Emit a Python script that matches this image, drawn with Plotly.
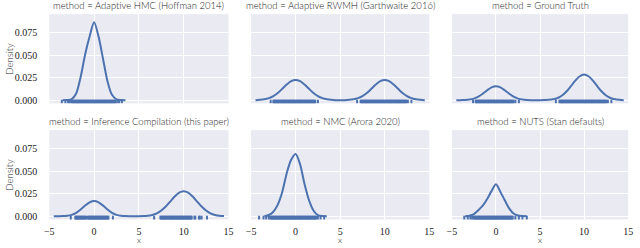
import plotly.graph_objects as go

# ---------------- data ----------------
methods = [
    "Adaptive HMC (Hoffman 2014)",
    "Adaptive RWMH (Garthwaite 2016)",
    "Ground Truth",
    "Inference Compilation (this paper)",
    "NMC (Arora 2020)",
    "NUTS (Stan defaults)",
]

x_narrow = [-3.5, -3.0, -2.5, -2.0, -1.5, -1.0, -0.5, 0.0, 0.5, 1.0, 1.5, 2.0, 2.5, 3.0, 3.5]
x_wide = [-4.5, -4.0, -3.5, -3.0, -2.5, -2.0, -1.5, -1.0, -0.5, 0.0, 0.5, 1.0, 1.5, 2.0,
          2.5, 3.0, 3.5, 4.0, 4.5, 5.0, 5.5, 6.0, 6.5, 7.0, 7.5, 8.0, 8.5, 9.0, 9.5, 10.0,
          10.5, 11.0, 11.5, 12.0, 12.5, 13.0, 13.5, 14.0, 14.5]

hmc_density = [0.0, 0.0002, 0.0012, 0.0075, 0.026, 0.051, 0.071, 0.087, 0.071, 0.046,
               0.021, 0.006, 0.001, 0.0002, 0.0]
rwmh_density = [0.0001, 0.0004, 0.0010, 0.0023, 0.0046, 0.0081, 0.0127, 0.0175, 0.0212, 0.0225,
                0.0212, 0.0175, 0.0127, 0.0081, 0.0046, 0.0023, 0.0010, 0.0004, 0.0001, 0.0001,
                0.0001, 0.0004, 0.0010, 0.0023, 0.0046, 0.0081, 0.0127, 0.0175, 0.0212, 0.0225,
                0.0212, 0.0175, 0.0127, 0.0081, 0.0046, 0.0023, 0.0010, 0.0004, 0.0001]
truth_density = [0.0, 0.0001, 0.0002, 0.0007, 0.0018, 0.0039, 0.0072, 0.0111, 0.0144, 0.0157,
                 0.0144, 0.0111, 0.0072, 0.0039, 0.0018, 0.0007, 0.0002, 0.0001, 0.0001,
                 0.0001, 0.0002, 0.0004, 0.0010, 0.0025, 0.0053, 0.0097, 0.0156, 0.0218, 0.0267,
                 0.0286, 0.0267, 0.0218, 0.0156, 0.0097, 0.0053, 0.0025, 0.0010, 0.0004, 0.0001]
ic_density = [0.0, 0.0001, 0.0002, 0.0006, 0.0016, 0.0038, 0.0075, 0.0119, 0.0156, 0.0171,
              0.0156, 0.0119, 0.0075, 0.0038, 0.0016, 0.0006, 0.0002, 0.0001, 0.0001,
              0.0001, 0.0002, 0.0006, 0.0015, 0.0033, 0.0064, 0.0108, 0.0164, 0.0220, 0.0263,
              0.0279, 0.0263, 0.0220, 0.0164, 0.0108, 0.0064, 0.0033, 0.0015, 0.0006, 0.0002]
nmc_density = [0.0, 0.0014, 0.005, 0.013, 0.027, 0.048, 0.063, 0.0695, 0.058, 0.036,
               0.018, 0.0065, 0.0012, 0.0002, 0.0]
nuts_density = [0.0, 0.0006, 0.0025, 0.0068, 0.0118, 0.0192, 0.0283, 0.0357, 0.0272, 0.0178,
                0.0088, 0.0030, 0.0008, 0.0002, 0.0]

hmc_rug = [-3.6, -3.2, -2.9, -2.7, -2.5, -2.4, -2.3, -2.2, -2.1, -2.0, -1.9, -1.8, -1.7, -1.6,
           -1.5, -1.4, -1.3, -1.2, -1.1, -1.0, -0.9, -0.8, -0.7, -0.6, -0.5, -0.4, -0.3, -0.2,
           -0.1, 0.0, 0.1, 0.2, 0.3, 0.4, 0.5, 0.6, 0.7, 0.8, 0.9, 1.0, 1.1, 1.2, 1.3, 1.4, 1.5,
           1.6, 1.7, 1.8, 1.9, 2.0, 2.1, 2.2, 2.3, 2.4, 2.6, 2.8, 3.1]
rwmh_rug = [-2.8, -2.5, -2.4, -2.3, -2.2, -2.1, -2.0, -1.9, -1.8, -1.7, -1.6, -1.5, -1.4, -1.3,
            -1.2, -1.1, -1.0, -0.9, -0.8, -0.7, -0.6, -0.5, -0.4, -0.3, -0.2, -0.1, 0.0, 0.1,
            0.2, 0.3, 0.4, 0.5, 0.6, 0.7, 0.8, 0.9, 1.0, 1.1, 1.2, 1.3, 1.4, 1.5, 1.6, 1.7, 1.8,
            1.9, 2.0, 2.1, 2.2, 2.5,
            6.9, 7.3, 7.4, 7.5, 7.6, 7.7, 7.8, 7.9, 8.0, 8.1, 8.2, 8.3, 8.4, 8.5, 8.6, 8.7, 8.8,
            8.9, 9.0, 9.1, 9.2, 9.3, 9.4, 9.5, 9.6, 9.7, 9.8, 9.9, 10.0, 10.1, 10.2, 10.3, 10.4,
            10.5, 10.6, 10.7, 10.8, 10.9, 11.0, 11.1, 11.2, 11.3, 11.4, 11.5, 11.6, 11.7, 11.8,
            11.9, 12.0, 12.1, 12.2, 12.3, 12.4, 12.6, 13.0]
truth_rug = [-2.6, -2.3, -2.2, -2.1, -2.0, -1.9, -1.8, -1.7, -1.6, -1.5, -1.4, -1.3, -1.2, -1.1,
             -1.0, -0.9, -0.8, -0.7, -0.6, -0.5, -0.4, -0.3, -0.2, -0.1, 0.0, 0.1, 0.2, 0.3,
             0.4, 0.5, 0.6, 0.7, 0.8, 0.9, 1.0, 1.1, 1.2, 1.3, 1.4, 1.5, 1.6, 1.7, 1.8, 1.9,
             2.0, 2.2, 2.6,
             6.8, 7.2, 7.3, 7.4, 7.5, 7.6, 7.7, 7.8, 7.9, 8.0, 8.1, 8.2, 8.3, 8.4, 8.5, 8.6, 8.7,
             8.8, 8.9, 9.0, 9.1, 9.2, 9.3, 9.4, 9.5, 9.6, 9.7, 9.8, 9.9, 10.0, 10.1, 10.2, 10.3,
             10.4, 10.5, 10.6, 10.7, 10.8, 10.9, 11.0, 11.1, 11.2, 11.3, 11.4, 11.5, 11.6, 11.7,
             11.8, 11.9, 12.0, 12.1, 12.2, 12.3, 12.4, 12.5, 12.7, 13.1]
ic_rug = [-2.6, -2.1, -2.0, -1.9, -1.8, -1.7, -1.6, -1.5, -1.4, -1.3, -1.2, -1.1, -1.0, -0.9,
          -0.7, -0.6, -0.5, -0.4, -0.3, -0.2, -0.1, 0.0, 0.1, 0.2, 0.3, 0.4, 0.5, 0.6, 0.7,
          0.8, 0.9, 1.0, 1.1, 1.2, 1.3, 1.4, 1.5, 1.6, 2.1,
          6.7, 7.4, 7.5, 7.6, 7.7, 7.8, 7.9, 8.0, 8.1, 8.2, 8.3, 8.4, 8.5, 8.6, 8.7, 8.8, 8.9,
          9.0, 9.1, 9.2, 9.3, 9.4, 9.5, 9.6, 9.7, 9.8, 9.9, 10.0, 10.1, 10.2, 10.3, 10.4, 10.5,
          10.6, 10.7, 10.8, 10.9, 11.2, 11.3, 11.7, 11.8, 12.0, 12.6]
nmc_rug = [-4.1, -3.6, -3.3, -3.0, -2.8, -2.7, -2.6, -2.5, -2.4, -2.3, -2.2, -2.1, -2.0, -1.9,
           -1.8, -1.7, -1.6, -1.5, -1.4, -1.3, -1.2, -1.1, -1.0, -0.9, -0.8, -0.7, -0.6, -0.5,
           -0.4, -0.3, -0.2, -0.1, 0.0, 0.1, 0.2, 0.3, 0.4, 0.5, 0.6, 0.7, 0.8, 0.9, 1.0, 1.1,
           1.2, 1.3, 1.4, 1.5, 1.6, 1.7, 1.8, 1.9, 2.0, 2.1, 2.2, 2.3, 2.5, 2.8, 3.2]
nuts_rug = [-3.6, -3.2, -2.9, -2.7, -2.5, -2.4, -2.3, -2.2, -2.1, -2.0, -1.9, -1.8, -1.7, -1.6,
            -1.5, -1.4, -1.3, -1.2, -1.1, -1.0, -0.9, -0.8, -0.7, -0.6, -0.5, -0.4, -0.3, -0.2,
            -0.1, 0.0, 0.1, 0.2, 0.3, 0.4, 0.5, 0.6, 0.7, 0.8, 0.9, 1.0, 1.1, 1.2, 1.3, 1.4,
            1.5, 1.6, 1.7, 1.8, 1.9, 2.2, 2.6, 3.0, 3.5]

panel_x = [x_narrow, x_wide, x_wide, x_wide, x_narrow, x_narrow]
panel_density = [hmc_density, rwmh_density, truth_density, ic_density, nmc_density, nuts_density]
panel_rug = [hmc_rug, rwmh_rug, truth_rug, ic_rug, nmc_rug, nuts_rug]

x_ticks = [-5, 0, 5, 10, 15]
y_ticks = [0.0, 0.025, 0.05, 0.075]
y_tick_labels = ["0.000", "0.025", "0.050", "0.075"]

# ---------------- styling ----------------
LINE = "#4C72B0"
BG = "#EAEAF2"
TXT = "#222222"
SERIF = "Liberation Serif"
SANS = "Lato"

col_dom = [[0.0703, 0.3547], [0.3906, 0.6734], [0.7094, 0.9891]]
row_dom = [[0.5798, 0.9427], [0.1081, 0.4710]]
x_range = [-5, 15]
y_range = [-0.0035, 0.096]

fig = go.Figure()
layout = dict(
    width=640, height=248,
    margin=dict(l=0, r=0, t=0, b=0),
    paper_bgcolor="white", plot_bgcolor=BG,
    showlegend=False,
    font=dict(family=SANS, color=TXT, size=10),
)
annotations = []

for i in range(6):
    r, c = divmod(i, 3)
    n = "" if i == 0 else str(i + 1)
    xa, ya = "x" + n, "y" + n
    fig.add_trace(go.Scatter(
        x=panel_rug[i], y=[-0.0017] * len(panel_rug[i]), mode="markers",
        marker=dict(symbol="line-ns", size=3, line=dict(color=LINE, width=2)),
        xaxis=xa, yaxis=ya, hoverinfo="skip", cliponaxis=True))
    fig.add_trace(go.Scatter(
        x=panel_x[i], y=panel_density[i], mode="lines",
        line=dict(color=LINE, width=2, shape="spline", smoothing=0.8),
        xaxis=xa, yaxis=ya, hoverinfo="skip"))
    layout["xaxis" + n] = dict(
        domain=col_dom[c], anchor=ya, range=x_range,
        tickvals=x_ticks, showticklabels=(r == 1),
        tickfont=dict(family=SERIF, size=10, color=TXT),
        ticks="outside", ticklen=3, tickcolor="rgba(0,0,0,0)",
        showgrid=True, gridcolor="white", gridwidth=1,
        zeroline=False, showline=False)
    layout["yaxis" + n] = dict(
        domain=row_dom[r], anchor=xa, range=y_range,
        tickvals=y_ticks, ticktext=y_tick_labels, showticklabels=(c == 0),
        tickfont=dict(family=SERIF, size=10, color=TXT),
        ticklabelstandoff=11,
        showgrid=True, gridcolor="white", gridwidth=1,
        zeroline=False, showline=False, ticks="")
    cx = (col_dom[c][0] + col_dom[c][1]) / 2
    ty = 1 - 6 / 248 if r == 0 else 1 - 122 / 248
    annotations.append(dict(
        text="method = " + methods[i], x=cx, y=ty, xref="paper", yref="paper",
        xanchor="center", yanchor="middle", showarrow=False,
        font=dict(family=SANS, size=9.5, color=TXT, weight=300)))
    if c == 0:
        dy = (row_dom[r][0] + row_dom[r][1]) / 2
        annotations.append(dict(
            text="Density", x=5 / 640, y=dy, xref="paper", yref="paper",
            xanchor="center", yanchor="middle", textangle=-90, showarrow=False,
            font=dict(family=SANS, size=9.5, color=TXT, weight=300)))
    if r == 1:
        annotations.append(dict(
            text="x", x=cx, y=0, xref="paper", yref="paper",
            xanchor="center", yanchor="bottom", showarrow=False, borderpad=0,
            font=dict(family=SANS, size=8.5, color=TXT, weight=300)))

layout["annotations"] = annotations
fig.update_layout(**layout)
fig.write_html(
    "out.html",
    config={"displayModeBar": False},
    post_script="document.body.style.margin='0';document.body.style.padding='0';",
)
